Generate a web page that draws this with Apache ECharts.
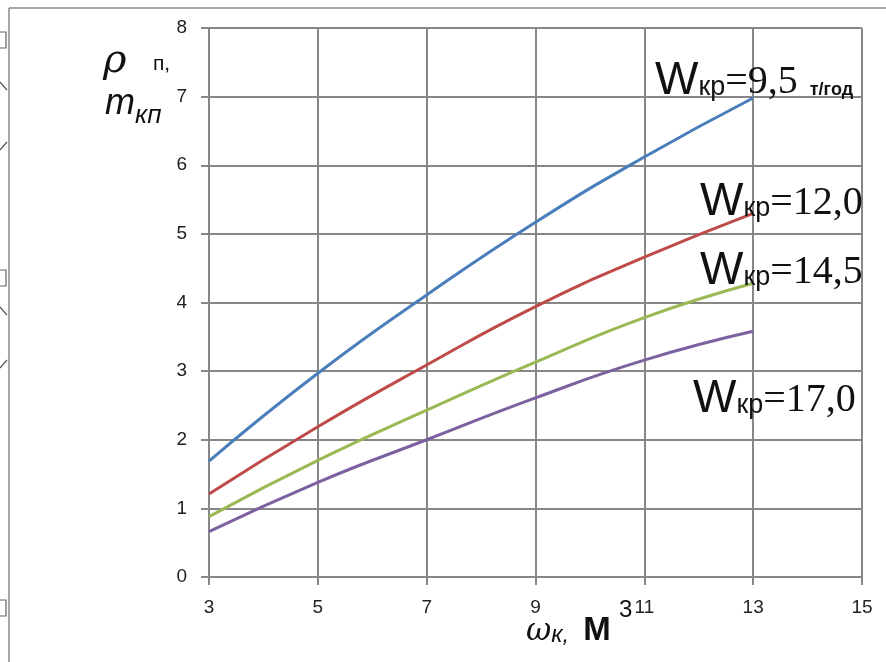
<!DOCTYPE html>
<html>
<head>
<meta charset="utf-8">
<script src="https://cdn.jsdelivr.net/npm/echarts@6/dist/echarts.min.js"></script>
<style>
html,body{margin:0;padding:0;background:#fff;}
#c{width:886px;height:662px;}
</style>
</head>
<body>
<div id="c"></div>
<script>
const xValues = [3, 5, 7, 9, 11, 13];
const seriesNames = ['9,5', '12,0', '14,5', '17,0'];
const w95 = [1.69, 2.97, 4.11, 5.17, 6.12, 6.98];
const w120 = [1.21, 2.19, 3.09, 3.94, 4.66, 5.30];
const w145 = [0.88, 1.70, 2.43, 3.13, 3.78, 4.28];
const w170 = [0.66, 1.38, 2.00, 2.61, 3.16, 3.58];
const seriesColors = ['#4a7ebb', '#be4b48', '#98b954', '#7d60a0'];
const xTicks = [3, 5, 7, 9, 11, 13, 15];
const yTicks = [0, 1, 2, 3, 4, 5, 6, 7, 8];

const allData = [w95, w120, w145, w170];
const chart = echarts.init(document.getElementById('c'), null, {renderer: 'canvas'});
const gridColor = '#878787';
const labelFont = 'Liberation Sans, Arial, sans-serif';

function wLabel(x, y, value, extra) {
  return {
    type: 'text', left: x, top: y, z: 10,
    style: {
      text: '{w|W}{k|кр}{v|=' + value + '}' + (extra ? '{u|' + extra + '}' : ''),
      rich: {
        w: {fontFamily: labelFont, fontSize: 46, fill: '#111', verticalAlign: 'bottom'},
        k: {fontFamily: labelFont, fontSize: 27, fill: '#111', verticalAlign: 'bottom', padding: [0,0,3,0]},
        v: {fontFamily: 'Liberation Serif, Times New Roman, serif', fontSize: 40, fill: '#111', verticalAlign: 'bottom', padding: [0,0,2,0]},
        u: {fontFamily: labelFont, fontSize: 18, fontWeight: 'bold', fill: '#111', verticalAlign: 'bottom', padding: [0,0,5,12]}
      }
    }
  };
}

chart.setOption({
  animation: false,
  backgroundColor: '#fff',
  grid: {left: 209, right: 24, top: 28, bottom: 85, containLabel: false},
  xAxis: {
    type: 'value', min: xTicks[0], max: xTicks[xTicks.length - 1], interval: 2,
    axisLine: {show: true, lineStyle: {color: gridColor, width: 2}},
    axisTick: {show: true, length: 8, lineStyle: {color: gridColor, width: 2}},
    splitLine: {show: true, lineStyle: {color: gridColor, width: 2}},
    axisLabel: {color: '#222', fontSize: 19, fontFamily: labelFont, margin: 21}
  },
  yAxis: {
    type: 'value', min: yTicks[0], max: yTicks[yTicks.length - 1], interval: 1,
    axisLine: {show: true, lineStyle: {color: gridColor, width: 2}},
    axisTick: {show: true, length: 8, lineStyle: {color: gridColor, width: 2}},
    splitLine: {show: true, lineStyle: {color: gridColor, width: 2}},
    axisLabel: {color: '#222', fontSize: 19, fontFamily: labelFont, margin: 22}
  },
  series: allData.map((d, i) => ({
    name: seriesNames[i],
    type: 'line',
    smooth: true,
    showSymbol: false,
    symbol: 'none',
    lineStyle: {color: seriesColors[i], width: 3},
    data: xValues.map((x, j) => [x, d[j]]),
    z: 3
  })),
  graphic: [
    {type: 'line', shape: {x1: 9, y1: 8, x2: 886, y2: 8}, style: {stroke: '#8a8a8a', lineWidth: 1.5}},
    {type: 'line', shape: {x1: 9, y1: 8, x2: 9, y2: 662}, style: {stroke: '#8a8a8a', lineWidth: 1.5}},
    {type: 'rect', shape: {x: -4, y: 32, width: 10, height: 16}, style: {fill: '#fff', stroke: '#666', lineWidth: 1.2}},
    {type: 'rect', shape: {x: -4, y: 270, width: 10, height: 16}, style: {fill: '#fff', stroke: '#666', lineWidth: 1.2}},
    {type: 'rect', shape: {x: -4, y: 600, width: 10, height: 16}, style: {fill: '#fff', stroke: '#666', lineWidth: 1.2}},
    {type: 'line', shape: {x1: 0, y1: 82, x2: 7, y2: 90}, style: {stroke: '#555', lineWidth: 1.2}},
    {type: 'line', shape: {x1: 0, y1: 150, x2: 7, y2: 142}, style: {stroke: '#555', lineWidth: 1.2}},
    {type: 'line', shape: {x1: 0, y1: 307, x2: 7, y2: 315}, style: {stroke: '#555', lineWidth: 1.2}},
    {type: 'line', shape: {x1: 0, y1: 368, x2: 7, y2: 360}, style: {stroke: '#555', lineWidth: 1.2}},
    {type: 'text', left: 103, top: 42, style: {text: 'ρ', fontFamily: 'DejaVu Serif, serif', fontStyle: 'italic', fontSize: 40, fill: '#111'}},
    {type: 'text', left: 153, top: 54, style: {text: 'п,', fontFamily: labelFont, fontSize: 21, fill: '#111'}},
    {type: 'text', left: 105, top: 86, style: {text: '{m|m}{s|кп}', rich: {
      m: {fontFamily: labelFont, fontStyle: 'italic', fontSize: 36, fill: '#111', verticalAlign: 'bottom'},
      s: {fontFamily: labelFont, fontStyle: 'italic', fontSize: 26, fill: '#111', verticalAlign: 'bottom', padding: [0,0,-7,0]}
    }}},
    {type: 'text', left: 526, top: 614, style: {text: '{o|ω}{k|к,}{m|М}', rich: {
      o: {fontFamily: 'DejaVu Serif, serif', fontStyle: 'italic', fontSize: 31, fill: '#111', verticalAlign: 'bottom'},
      k: {fontFamily: labelFont, fontStyle: 'italic', fontSize: 24, fill: '#111', verticalAlign: 'bottom', padding: [0,14,0,0]},
      m: {fontFamily: labelFont, fontWeight: 'bold', fontSize: 33, fill: '#111', verticalAlign: 'bottom'}
    }}},
    {type: 'text', left: 619, top: 598, style: {text: '3', fontFamily: labelFont, fontSize: 24, fill: '#111'}},
    wLabel(655, 58, '9,5', 'т/год'),
    wLabel(700, 179, '12,0'),
    wLabel(700, 248, '14,5'),
    wLabel(693, 376, '17,0')
  ]
});
</script>
</body>
</html>
